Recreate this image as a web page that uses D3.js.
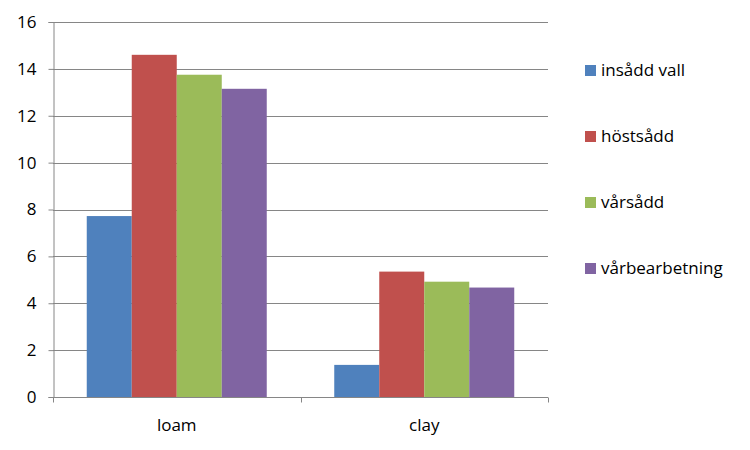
<!DOCTYPE html>
<html>
<head>
<meta charset="utf-8">
<script src="https://cdn.jsdelivr.net/npm/d3@7"></script>
<style>
  body { margin: 0; background: #fff; }
  text { font-family: "Open Sans", "Liberation Sans", sans-serif; fill: #000; }
</style>
</head>
<body>
<svg id="canvas" width="750" height="450"></svg>
<script>
// soil types on the x axis
var categories = ["loam", "clay"];
// one series per cultivation method
var seriesNames = ["insådd vall", "höstsådd", "vårsådd", "vårbearbetning"];
var seriesColors = ["#4F81BD", "#C0504D", "#9BBB59", "#8064A2"];
var values = {
    "insådd vall":    [7.72, 1.37],
    "höstsådd":       [14.6, 5.35],
    "vårsådd":        [13.75, 4.92],
    "vårbearbetning": [13.15, 4.67]
};
var yTicks = [0, 2, 4, 6, 8, 10, 12, 14, 16];

var margin = {top: 22, left: 53, right: 202, bottom: 53},
    width = 750 - margin.left - margin.right,
    height = 450 - margin.top - margin.bottom;

var svg = d3.select("#canvas")
    .append("g")
    .attr("transform", "translate(" + margin.left + "," + margin.top + ")");

var x0 = d3.scaleBand()
    .domain(categories)
    .range([0, width]);

// gap between groups is 150% of one bar width
var x1 = d3.scaleBand()
    .domain(seriesNames)
    .range([0, x0.bandwidth()])
    .paddingOuter(0.75);

var y = d3.scaleLinear()
    .domain([0, 16])
    .range([height, 0]);

var color = d3.scaleOrdinal(seriesNames, seriesColors);

// horizontal gridlines
svg.selectAll(".grid")
    .data(yTicks.filter(function(d) { return d > 0; }))
    .enter().append("line")
    .attr("class", "grid")
    .attr("x1", 0)
    .attr("x2", width)
    .attr("y1", function(d) { return Math.round(y(d)) + 0.5; })
    .attr("y2", function(d) { return Math.round(y(d)) + 0.5; })
    .attr("stroke", "#868686")
    .attr("stroke-width", 1);

// bars
var group = svg.selectAll(".group")
    .data(categories)
    .enter().append("g")
    .attr("class", "group")
    .attr("transform", function(d) { return "translate(" + x0(d) + ",0)"; });

group.selectAll("rect")
    .data(function(c, ci) {
        return seriesNames.map(function(s) { return {series: s, value: values[s][ci]}; });
    })
    .enter().append("rect")
    .attr("x", function(d) { return x1(d.series); })
    .attr("y", function(d) { return y(d.value); })
    .attr("width", x1.bandwidth())
    .attr("height", function(d) { return height - y(d.value); })
    .attr("fill", function(d) { return color(d.series); });

// y axis
var yAxis = d3.axisLeft(y)
    .tickValues(yTicks)
    .tickSize(5)
    .tickPadding(12);

var yG = svg.append("g")
    .attr("transform", "translate(0.5,0)")
    .call(yAxis);
yG.select(".domain").attr("stroke", "#868686");
yG.selectAll(".tick line").attr("stroke", "#868686");
yG.selectAll(".tick text").style("font-size", "17px");

// x axis: ticks sit on the group boundaries
var xG = svg.append("g")
    .attr("transform", "translate(0," + (Math.round(height) + 0.5) + ")");
xG.append("line")
    .attr("x1", 0).attr("x2", width)
    .attr("stroke", "#868686");
xG.selectAll(".xtick")
    .data([0].concat(categories.map(function(c) { return x0(c) + x0.bandwidth(); })))
    .enter().append("line")
    .attr("class", "xtick")
    .attr("x1", function(d) { return Math.round(d) + 0.5; })
    .attr("x2", function(d) { return Math.round(d) + 0.5; })
    .attr("y1", 0).attr("y2", 5)
    .attr("stroke", "#868686");
xG.selectAll(".xlabel")
    .data(categories)
    .enter().append("text")
    .attr("class", "xlabel")
    .attr("x", function(d) { return x0(d) + x0.bandwidth() / 2; })
    .attr("y", 33)
    .attr("text-anchor", "middle")
    .style("font-size", "17px")
    .text(function(d) { return d; });

// legend
var legend = d3.select("#canvas").append("g")
    .attr("transform", "translate(585,70)");

var item = legend.selectAll(".item")
    .data(seriesNames)
    .enter().append("g")
    .attr("class", "item")
    .attr("transform", function(d, i) { return "translate(0," + i * 66 + ")"; });

item.append("rect")
    .attr("x", 0)
    .attr("y", -5)
    .attr("width", 11)
    .attr("height", 11)
    .attr("fill", function(d) { return color(d); });

item.append("text")
    .attr("x", 16)
    .attr("y", 0)
    .attr("dy", "0.35em")
    .style("font-size", "17px")
    .text(function(d) { return d; });
</script>
</body>
</html>
